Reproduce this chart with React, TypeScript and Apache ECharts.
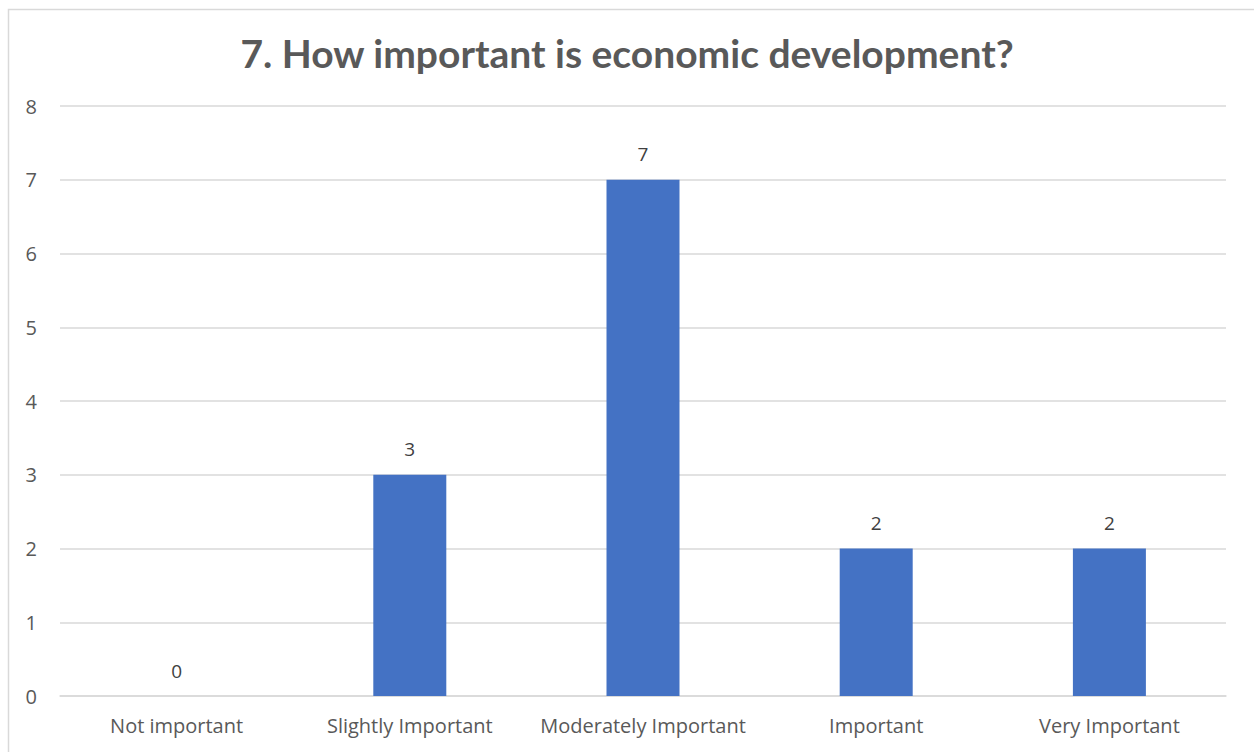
import React, { useEffect, useRef } from "react";
import * as echarts from "echarts";

const categories = ["Not important", "Slightly Important", "Moderately Important", "Important", "Very Important"];
const values = [0, 3, 7, 2, 2];
const titleText = "7. How important is economic development?";

export default function App() {
  const ref = useRef<HTMLDivElement>(null);
  useEffect(() => {
    if (!ref.current) return;
    const chart = echarts.init(ref.current, undefined, { renderer: "svg" });
    chart.setOption({
      animation: false,
      backgroundColor: "#ffffff",
      textStyle: { fontFamily: "Lato, 'Open Sans', sans-serif" },
      title: {
        text: titleText,
        left: "center",
        top: 28,
        textStyle: { fontFamily: "Lato, sans-serif", fontWeight: "bold", fontSize: 39, color: "#595959" },
      },
      graphic: [
        {
          type: "rect",
          shape: { x: 8.5, y: 9.5, width: 1260, height: 760 },
          style: { fill: "none", stroke: "#d9d9d9", lineWidth: 1.5 },
          silent: true,
        },
      ],
      grid: { left: 60, right: 28, top: 106, bottom: 56, containLabel: false },
      xAxis: {
        type: "category",
        data: categories,
        axisLine: { show: true, lineStyle: { color: "#d9d9d9", width: 1.5 } },
        axisTick: { show: false },
        axisLabel: { interval: 0, color: "#595959", fontSize: 20, margin: 19, fontFamily: "'Open Sans', sans-serif" },
      },
      yAxis: {
        type: "value",
        min: 0,
        max: 8,
        interval: 1,
        axisLine: { show: false },
        axisTick: { show: false },
        axisLabel: { color: "#595959", fontSize: 20, margin: 23, fontFamily: "'Open Sans', sans-serif" },
        splitLine: { lineStyle: { color: "#d9d9d9", width: 1.5 } },
      },
      series: [
        {
          type: "bar",
          data: values,
          barWidth: 73,
          itemStyle: { color: "#4472c4" },
          label: {
            show: true,
            position: "top",
            distance: 16,
            color: "#404040",
            fontSize: 19,
            fontFamily: "'Open Sans', sans-serif",
          },
        },
      ],
    });
    return () => chart.dispose();
  }, []);
  return (
    <div
      ref={ref}
      style={{ position: "fixed", left: 0, top: 0, width: 1254, height: 752 }}
    />
  );
}
